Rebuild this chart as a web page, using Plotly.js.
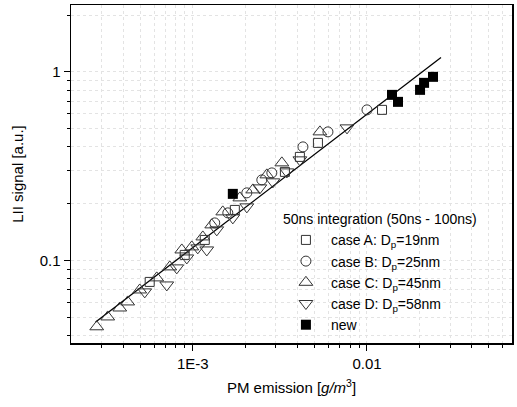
<!DOCTYPE html>
<html>
<head>
<meta charset="utf-8">
<script src="https://cdn.plot.ly/plotly-3.0.1.min.js"></script>
<style>html,body{margin:0;padding:0;background:#fff;}#chart{width:517px;height:407px;}</style>
</head>
<body>
<div id="chart"></div>
<script>
// Case A (squares)
const caseA_x = [5.66e-4, 8.99e-4, 1.172e-3, 1.744e-3, 3.38e-3, 4.12e-3, 5.23e-3, 0.0122];
const caseA_y = [0.0771, 0.1072, 0.1287, 0.1856, 0.2951, 0.3543, 0.4204, 0.6289];
// Case B (circles)
const caseB_x = [1.337e-3, 1.589e-3, 2.043e-3, 2.491e-3, 2.844e-3, 4.29e-3, 5.97e-3, 0.0100];
const caseB_y = [0.1584, 0.1790, 0.2285, 0.2677, 0.2915, 0.4004, 0.4808, 0.6289];
// Case C (up triangles)
const caseC_x = [2.81e-4, 3.25e-4, 3.81e-4, 4.23e-4, 4.96e-4, 6.21e-4, 7.38e-4, 8.65e-4, 9.87e-4,
                 1.142e-3, 1.285e-3, 1.487e-3, 1.863e-3, 2.212e-3, 2.662e-3, 3.246e-3, 5.37e-3];
const caseC_y = [0.0446, 0.0503, 0.0561, 0.0604, 0.0699, 0.0810, 0.0926, 0.1139, 0.1182,
                 0.1335, 0.1546, 0.1812, 0.2149, 0.2369, 0.2846, 0.3295, 0.4808];
// Case D (down triangles)
const caseD_x = [5.30e-4, 7.09e-4, 8.09e-4, 9.24e-4, 1.068e-3, 1.203e-3, 1.373e-3, 1.698e-3,
                 2.043e-3, 2.427e-3, 2.883e-3, 3.47e-3, 4.12e-3, 7.68e-3];
const caseD_y = [0.0683, 0.0743, 0.0915, 0.1033, 0.1168, 0.1139, 0.1455, 0.1684,
                 0.1926, 0.2428, 0.2614, 0.2951, 0.3418, 0.5049];
// New (filled squares)
const new_x = [1.698e-3, 0.01392, 0.01507, 0.02017, 0.02127, 0.02394];
const new_y = [0.2257, 0.7551, 0.6934, 0.8027, 0.8744, 0.9408];
// Power-law fit line end points
const fit_x = [2.77e-4, 0.0266];
const fit_y = [0.0473, 1.19];

const xTickVals = [1e-3, 0.01];
const xTickText = ['1E-3', '0.01'];
const yTickVals = [0.1, 1];
const yTickText = ['0.1', '1'];
const xMinor = [3e-4,4e-4,5e-4,6e-4,7e-4,8e-4,9e-4,2e-3,3e-3,4e-3,5e-3,6e-3,7e-3,8e-3,9e-3,0.02,0.03,0.04,0.05,0.06];
const yMinor = [0.04,0.05,0.06,0.07,0.08,0.09,0.2,0.3,0.4,0.5,0.6,0.7,0.8,0.9,2];

const mk = (sym, size) => ({symbol: sym, size: size, color: '#333', line: {width: 1}});

const traces = [
  {x: fit_x, y: fit_y, mode: 'lines', line: {color: '#000', width: 1.3}, showlegend: false, hoverinfo: 'skip'},
  {x: caseA_x, y: caseA_y, mode: 'markers', name: 'case A: D<sub>p</sub>=19nm', marker: mk('square-open', 9)},
  {x: caseB_x, y: caseB_y, mode: 'markers', name: 'case B: D<sub>p</sub>=25nm', marker: mk('circle-open', 10)},
  {x: caseC_x, y: caseC_y, mode: 'markers', name: 'case C: D<sub>p</sub>=45nm', marker: mk('triangle-up-open', 12)},
  {x: caseD_x, y: caseD_y, mode: 'markers', name: 'case D: D<sub>p</sub>=58nm', marker: mk('triangle-down-open', 12)},
  {x: new_x, y: new_y, mode: 'markers', name: 'new', marker: {symbol: 'square', size: 10, color: '#000'}}
];

const font = {family: '"Liberation Sans", Arial, sans-serif', size: 15, color: '#000'};
const gridCol = '#e3e3e3';

const layout = {
  width: 517, height: 407,
  margin: {l: 71, r: 5, t: 5, b: 64},
  paper_bgcolor: '#fff', plot_bgcolor: '#fff',
  font: font,
  showlegend: true,
  legend: {
    x: 0.476, y: 0.405, xanchor: 'left', yanchor: 'top',
    bgcolor: 'rgba(0,0,0,0)', borderwidth: 0,
    itemwidth: 40,
    font: {family: font.family, size: 14, color: '#000'},
    title: {text: '50ns integration (50ns - 100ns)', font: {family: font.family, size: 14, color: '#000'}}
  },
  xaxis: {
    type: 'log', range: [Math.log10(2e-4), Math.log10(0.068)],
    tickmode: 'array', tickvals: xTickVals, ticktext: xTickText,
    ticks: 'outside', ticklen: 6, tickwidth: 1, tickcolor: '#000',
    showline: true, linecolor: '#000', linewidth: 1.5, mirror: true,
    showgrid: true, gridcolor: gridCol, griddash: 'dot', gridwidth: 1,
    zeroline: false,
    minor: {tickvals: xMinor, ticks: 'outside', ticklen: 3, tickcolor: '#000', showgrid: true, gridcolor: gridCol, griddash: 'dot'},
    tickfont: {size: 15},
    title: {text: 'PM emission [<i>g/m</i><sup>3</sup>]', font: {size: 15}, standoff: 12}
  },
  yaxis: {
    type: 'log', range: [Math.log10(0.0366), Math.log10(2.26)],
    tickmode: 'array', tickvals: yTickVals, ticktext: yTickText,
    ticks: 'outside', ticklen: 6, tickwidth: 1, tickcolor: '#000',
    showline: true, linecolor: '#000', linewidth: 1.5, mirror: true,
    showgrid: true, gridcolor: gridCol, griddash: 'dot', gridwidth: 1,
    zeroline: false,
    minor: {tickvals: yMinor, ticks: 'outside', ticklen: 3, tickcolor: '#000', showgrid: true, gridcolor: gridCol, griddash: 'dot'},
    tickfont: {size: 15},
    title: {text: 'LII signal [a.u.]', font: {size: 15}, standoff: 12}
  }
};

Plotly.newPlot('chart', traces, layout, {displayModeBar: false, staticPlot: true});
</script>
</body>
</html>
